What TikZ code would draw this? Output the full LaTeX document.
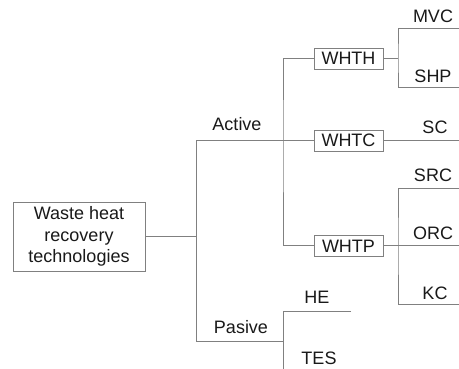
\documentclass[tikz,border=0pt]{standalone}
\usepackage{fontspec}
\setmainfont{Liberation Sans}
\usetikzlibrary{positioning}

\begin{document}
\begin{tikzpicture}[x=1pt,y=-1pt,
                every node/.append style = {font=\fontsize{18}{21.5}\selectfont, text=black!90, inner sep=0pt},
                box/.style = {draw=gray, line width=0.9pt, minimum width=69pt, minimum height=21pt},
                link/.style = {draw=gray, line width=1pt}]
            \useasboundingbox (0,0) rectangle (459,369);
            \node[box, minimum width=132pt, minimum height=69pt, align=center] (whr) at (79,236.5) {Waste heat\\recovery\\technologies};
            \node[box] (whth) at (348.5,58.5) {WHTH};
            \node[box] (whtc) at (348.5,140.5) {WHTC};
            \node[box] (whtp) at (348.5,246) {WHTP};
            \node (act) at (237,124) {Active};
            \node (pas) at (241,327) {Pasive};
            \node (mvc) at (433,16) {MVC};
            \node (shp) at (433,76) {SHP};
            \node (sc) at (435,127) {SC};
            \node (src) at (433,175) {SRC};
            \node (orc) at (433,233) {ORC};
            \node (kc) at (435,293) {KC};
            \node (he) at (317,297) {HE};
            \node (tes) at (319,358) {TES};
            \coordinate (ja) at (196,140.5);
            \coordinate (jp) at (196,342);
            \coordinate (jw) at (283,140.5);
            \coordinate (jh) at (398,58.5);
            \coordinate (jt) at (398,246);
            \coordinate (em) at (460,29);
            \coordinate (es) at (460,88);
            \coordinate (ec) at (460,140.5);
            \coordinate (er) at (460,189);
            \coordinate (eo) at (460,246);
            \coordinate (ek) at (460,305);
            \coordinate (eh) at (351,312);
            \coordinate (et) at (283,372);
            \draw[link] (whr.east) -- (whr.east -| ja);
            \draw[link] (ja) -- (jp) -- (jp -| jw);
            \draw[link] (ja) -- (whtc.west);
            \draw[link] (whth.west) -| (jw) |- (whtp.west);
            \draw[link] (whth.east) -- (jh);
            \draw[link] (em) -| (jh) |- (es);
            \draw[link] (whtc.east) -- (ec);
            \draw[link] (whtp.east) -- (eo);
            \draw[link] (er) -| (jt) |- (ek);
            \draw[link] (eh) -| (et);
            \end{tikzpicture}
\end{document}
